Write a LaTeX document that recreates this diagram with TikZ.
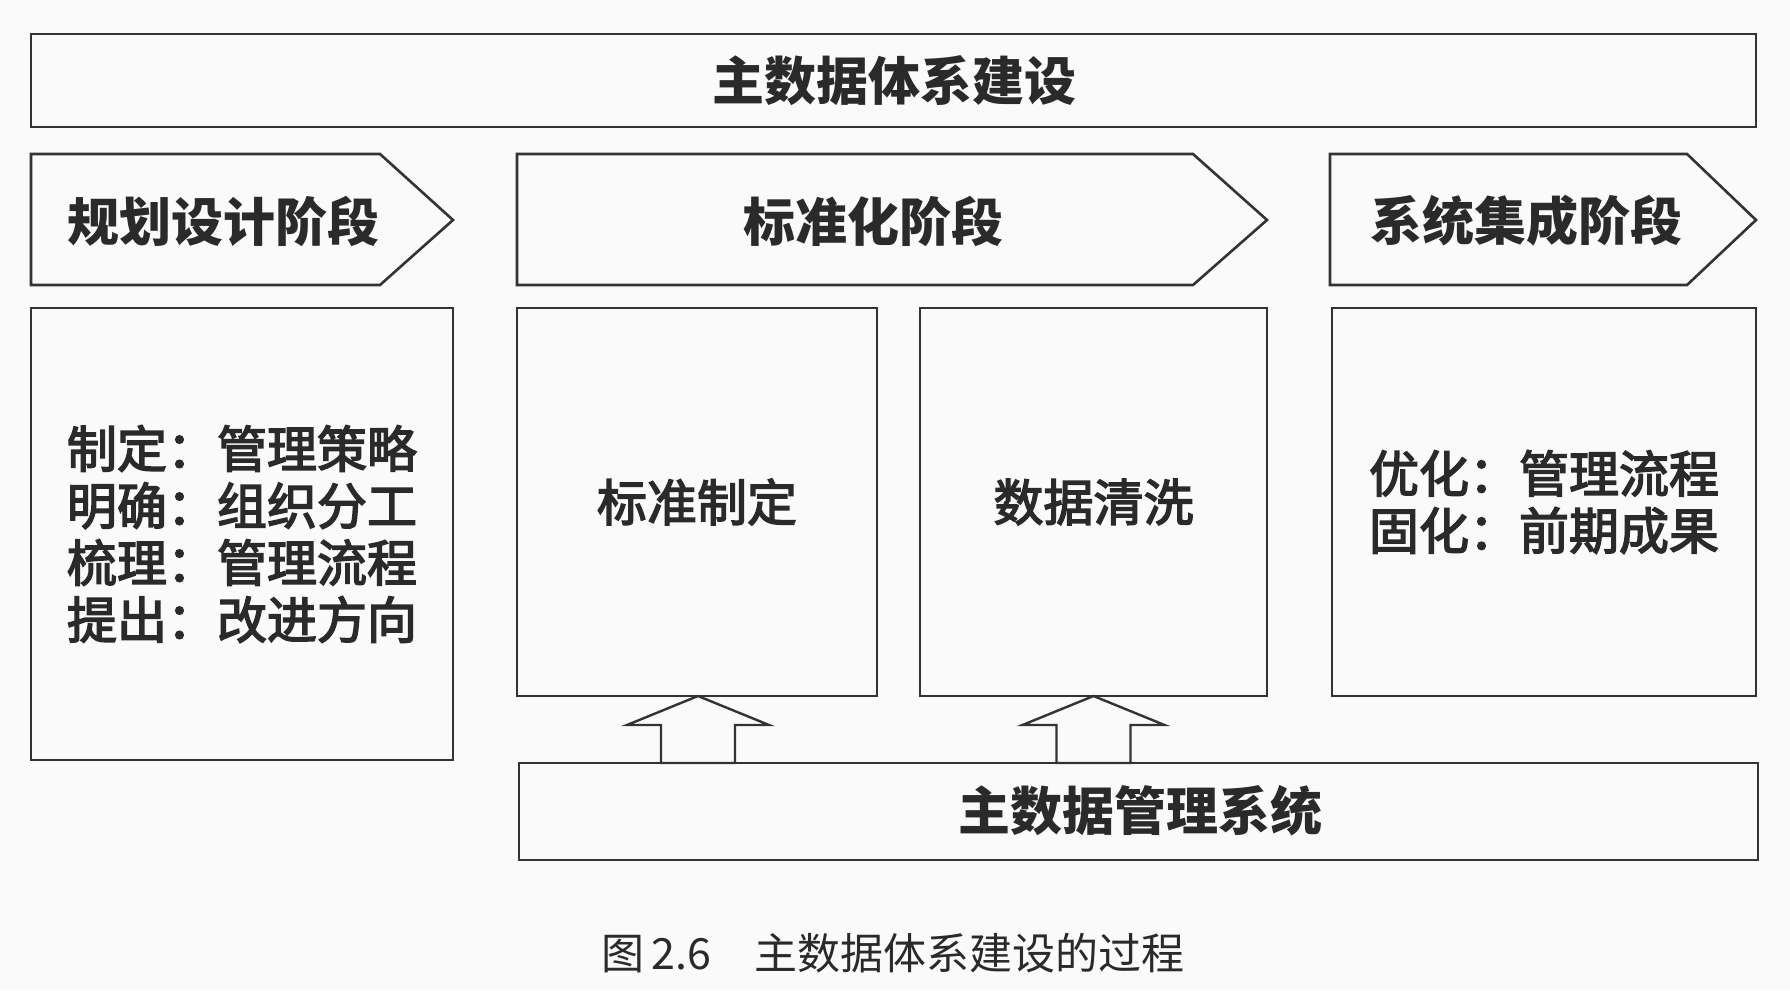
\documentclass[tikz,border=0pt]{standalone}
\usepackage{fontspec}
\newfontfamily\cjk{Noto Sans CJK SC}
\newfontfamily\cjkm{Noto Sans CJK SC}[FakeBold=3]
\usetikzlibrary{calc}
\definecolor{ln}{HTML}{333333}
\definecolor{tx}{HTML}{2A2A2A}
\definecolor{bg}{HTML}{FAFAFA}
\tikzset{
  box/.style={draw=ln, line width=2.6pt, fill=bg, inner sep=0pt, outer sep=0pt},
  stagebox/.style={draw=ln, line width=2.6pt, fill=bg, line join=miter},
  head/.style={text=tx, font=\cjk\bfseries\fontsize{52}{62}\selectfont, inner sep=0pt},
  body/.style={text=tx, font=\cjkm\fontsize{50}{57}\selectfont, inner sep=0pt, align=left},
  blockarrow/.style={draw=ln, line width=2.4pt, fill=bg, line join=miter},
  caption/.style={text=tx, font=\cjk\fontsize{43}{50}\selectfont, inner sep=0pt}
}
\begin{document}
\begin{tikzpicture}[x=1pt,y=-1pt]
\useasboundingbox[fill=bg] (0,0) rectangle (1790,990);

% top bar
\node[box, anchor=north west, minimum width=1725pt, minimum height=93pt] (top) at (31,34) {};
\node[head] (toptxt) at (894,81) {主数据体系建设};

% stage arrows
\draw[stagebox] (31,154) -- (380,154) -- (453,220) -- (380,285) -- (31,285) -- cycle;
\draw[stagebox] (517,154) -- (1193,154) -- (1267,220) -- (1193,285) -- (517,285) -- cycle;
\draw[stagebox] (1330,154) -- (1687,154) -- (1756,220) -- (1687,285) -- (1330,285) -- cycle;
\node[head] (s1) at (223,221) {规划设计阶段};
\node[head] (s2) at (873,221) {标准化阶段};
\node[head] (s3) at (1526,221) {系统集成阶段};

% content boxes
\node[box, anchor=north west, minimum width=422pt, minimum height=452pt] (b1) at (31,308) {};
\node[box, anchor=north west, minimum width=360pt, minimum height=388pt] (b2) at (517,308) {};
\node[box, anchor=north west, minimum width=347pt, minimum height=388pt] (b3) at (920,308) {};
\node[box, anchor=north west, minimum width=424pt, minimum height=388pt] (b4) at (1332,308) {};

\node[body] (t1) at (b1.center) {制定：管理策略\\明确：组织分工\\梳理：管理流程\\提出：改进方向};
\node[body] (t2) at (b2.center) {标准制定};
\node[body] (t3) at (b3.center) {数据清洗};
\node[body] (t4) at (b4.center) {优化：管理流程\\固化：前期成果};

% bottom system box
\node[box, anchor=north west, minimum width=1239pt, minimum height=97pt] (sys) at (519,763) {};
\node[head] (systxt) at (1140,811) {主数据管理系统};

% block arrows from system to boxes
\coordinate (a1) at ($(b2.south)+(1,0)$);
\coordinate (a2) at ($(b3.south)+(0,0)$);
\coordinate (f1) at (a1 |- sys.north);
\coordinate (f2) at (a2 |- sys.north);
\draw[blockarrow] (a1) -- ($(a1)+(71,29)$) -- ($(a1)+(37,29)$) -- ($(f1)+(37,0)$)
    -- ($(f1)+(-37,0)$) -- ($(a1)+(-37,29)$) -- ($(a1)+(-71,29)$) -- cycle;
\draw[blockarrow] (a2) -- ($(a2)+(71,29)$) -- ($(a2)+(37,29)$) -- ($(f2)+(37,0)$)
    -- ($(f2)+(-37,0)$) -- ($(a2)+(-37,29)$) -- ($(a2)+(-71,29)$) -- cycle;

% caption
\node[caption] (cap) at (893,953) {图\,2.6\quad 主数据体系建设的过程};
\end{tikzpicture}
\end{document}
